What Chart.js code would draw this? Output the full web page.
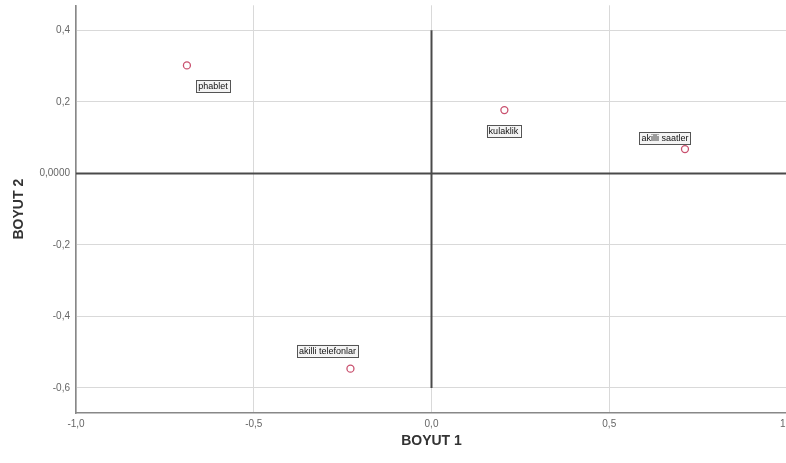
<!DOCTYPE html>
<html>
<head>
<meta charset="utf-8">
<script src="https://cdn.jsdelivr.net/npm/chart.js@4"></script>
<style>
  html, body { margin: 0; padding: 0; background: #fff; overflow: hidden; }
  #wrap { width: 800px; height: 463px; }
</style>
</head>
<body>
<div id="wrap"><canvas id="grafik" width="800" height="463"></canvas></div>
<script>
// ===== Veriler =====
const etiketler = ["phablet", "kulaklik", "akilli saatler", "akilli telefonlar"];
const boyut1 = [-0.688, 0.205, 0.713, -0.228];
const boyut2 = [0.302, 0.177, 0.068, -0.546];

const xTickDegerleri = [-1, -0.5, 0, 0.5, 1];
const xTickEtiketleri = ["-1,0", "-0,5", "0,0", "0,5", "1,0"];
const yTickDegerleri = [-0.6, -0.4, -0.2, 0, 0.2, 0.4];
const yTickEtiketleri = ["-0,6", "-0,4", "-0,2", "0,0000", "0,2", "0,4"];

// referans cizgileri (eksen merkezleri)
const yatayCizgi = [{ x: -1, y: 0 }, { x: 1, y: 0 }];
const dikeyCizgi = [{ x: 0, y: 0.4 }, { x: 0, y: -0.6 }];

// etiket kutularinin noktaya gore kaymasi (px)
const etiketKayma = [[26, 21], [-1, 21], [-20, -11], [-23, -18]];

const yaziTipi = "'Liberation Sans', Arial, sans-serif";

// ===== Etiket kutulari =====
const etiketEklentisi = {
  id: "etiketKutulari",
  afterDatasetsDraw(chart) {
    const ctx = chart.ctx;
    const meta = chart.getDatasetMeta(2);
    ctx.save();
    ctx.font = "9px " + yaziTipi;
    ctx.textAlign = "center";
    ctx.textBaseline = "middle";
    meta.data.forEach((nokta, i) => {
      const cx = nokta.x + etiketKayma[i][0];
      const cy = nokta.y + etiketKayma[i][1];
      const w = ctx.measureText(etiketler[i]).width + 4;
      const h = 12;
      ctx.fillStyle = "#f4f4f4";
      ctx.fillRect(cx - w / 2, cy - h / 2, w, h);
      ctx.strokeStyle = "#555";
      ctx.lineWidth = 1;
      ctx.strokeRect(Math.round(cx - w / 2) + 0.5, Math.round(cy - h / 2) + 0.5, Math.round(w), h);
      ctx.fillStyle = "#111";
      ctx.fillText(etiketler[i], cx, cy + 0.5);
    });
    ctx.restore();
  }
};

const ctxGrafik = document.getElementById("grafik").getContext("2d");
new Chart(ctxGrafik, {
  type: "scatter",
  data: {
    datasets: [
      {
        data: yatayCizgi,
        type: "line",
        borderColor: "#4a4a4a",
        borderWidth: 2,
        pointRadius: 0,
        fill: false
      },
      {
        data: dikeyCizgi,
        type: "line",
        borderColor: "#4a4a4a",
        borderWidth: 2,
        pointRadius: 0,
        fill: false
      },
      {
        data: boyut1.map((v, i) => ({ x: v, y: boyut2[i] })),
        pointRadius: 3.5,
        pointBorderWidth: 1.3,
        pointBorderColor: "#c9506e",
        pointBackgroundColor: "rgba(255,255,255,0)"
      }
    ]
  },
  options: {
    responsive: false,
    animation: false,
    layout: { padding: { top: 5, right: 13, left: 0, bottom: 0 } },
    plugins: {
      legend: { display: false },
      tooltip: { enabled: false }
    },
    scales: {
      x: {
        type: "linear",
        min: -1,
        max: 1,
        afterBuildTicks: (s) => { s.ticks = xTickDegerleri.map(v => ({ value: v })); },
        afterFit: (s) => { s.height = 50; s.paddingLeft = 0; s.paddingRight = 0; },
        ticks: {
          callback: (v, i) => xTickEtiketleri[i],
          color: "#666",
          font: { family: yaziTipi, size: 10 },
          padding: 5,
          maxRotation: 0
        },
        grid: { color: "#d9d9d9", drawTicks: false },
        border: { color: "#888", width: 1.5 },
        title: {
          display: true,
          text: "BOYUT 1",
          color: "#333",
          font: { family: yaziTipi, size: 14, weight: "bold" },
          padding: { top: 8, bottom: 13 }
        }
      },
      y: {
        type: "linear",
        min: -0.67,
        max: 0.47,
        afterBuildTicks: (s) => { s.ticks = yTickDegerleri.map(v => ({ value: v })); },
        afterFit: (s) => { s.width = 76; s.paddingTop = 0; s.paddingBottom = 0; },
        ticks: {
          callback: (v, i) => yTickEtiketleri[i],
          color: "#666",
          font: { family: yaziTipi, size: 10 },
          padding: 6
        },
        grid: { color: "#d9d9d9", drawTicks: false },
        border: { color: "#888", width: 1.5 },
        title: {
          display: true,
          text: "BOYUT 2",
          color: "#333",
          font: { family: yaziTipi, size: 14, weight: "bold" },
          padding: { top: 11, bottom: 0 }
        }
      }
    }
  },
  plugins: [etiketEklentisi]
});
</script>
</body>
</html>
